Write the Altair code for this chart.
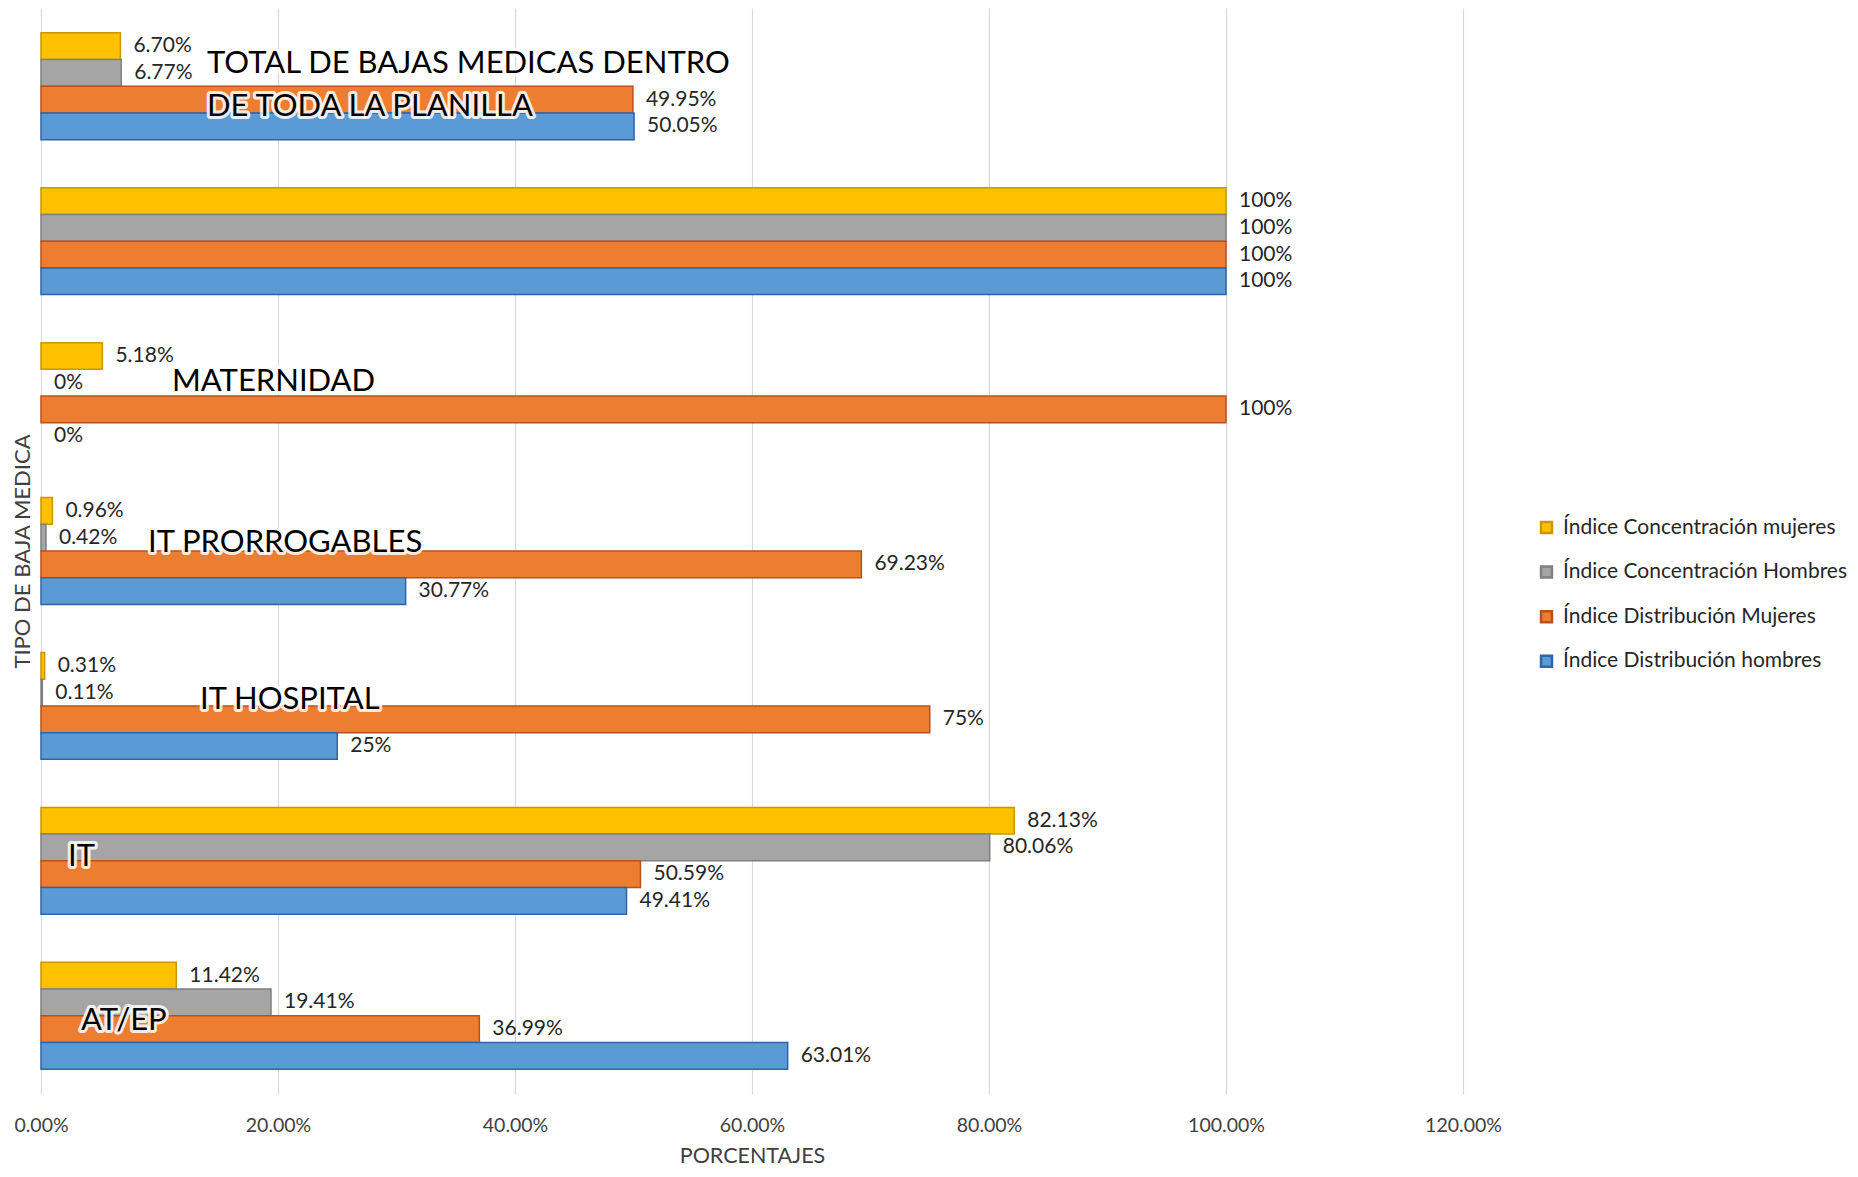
import altair as alt
import pandas as pd

# ---- data ----
categorias = [
    "TOTAL DE BAJAS MEDICAS DENTRO DE TODA LA PLANILLA",
    "TOTAL",
    "MATERNIDAD",
    "IT PRORROGABLES",
    "IT HOSPITAL",
    "IT",
    "AT/EP",
]
series = [
    "Índice Concentración mujeres",
    "Índice Concentración Hombres",
    "Índice Distribución Mujeres",
    "Índice Distribución hombres",
]
conc_mujeres = [6.70, 100, 5.18, 0.96, 0.31, 82.13, 11.42]
conc_hombres = [6.77, 100, 0, 0.42, 0.11, 80.06, 19.41]
dist_mujeres = [49.95, 100, 100, 69.23, 75, 50.59, 36.99]
dist_hombres = [50.05, 100, 0, 30.77, 25, 49.41, 63.01]

etiq_conc_mujeres = ["6.70%", "100%", "5.18%", "0.96%", "0.31%", "82.13%", "11.42%"]
etiq_conc_hombres = ["6.77%", "100%", "0%", "0.42%", "0.11%", "80.06%", "19.41%"]
etiq_dist_mujeres = ["49.95%", "100%", "100%", "69.23%", "75%", "50.59%", "36.99%"]
etiq_dist_hombres = ["50.05%", "100%", "0%", "30.77%", "25%", "49.41%", "63.01%"]

x_ticks = [0, 20, 40, 60, 80, 100, 120]

# overlay category captions (text, category they sit on)
rotulos = [
    ("TOTAL DE BAJAS MEDICAS DENTRO", categorias[0]),
    ("DE TODA LA PLANILLA", categorias[0]),
    ("MATERNIDAD", "MATERNIDAD"),
    ("IT PRORROGABLES", "IT PRORROGABLES"),
    ("IT HOSPITAL", "IT HOSPITAL"),
    ("IT", "IT"),
    ("AT/EP", "AT/EP"),
]
# pixel offsets of each caption (style)
rotulo_offsets = [(166, -22), (166, 21), (131, -14), (107, -8), (159, -6), (27, -4), (40, 5)]

valores = [conc_mujeres, conc_hombres, dist_mujeres, dist_hombres]
etiquetas = [etiq_conc_mujeres, etiq_conc_hombres, etiq_dist_mujeres, etiq_dist_hombres]
rows = []
for s, vals, labs in zip(series, valores, etiquetas):
    for c, v, l in zip(categorias, vals, labs):
        rows.append({"categoria": c, "serie": s, "valor": v, "etiqueta": l})
df = pd.DataFrame(rows)

FONT = "Lato"
fill_colors = ["#FFC000", "#A5A5A5", "#ED7D31", "#5B9BD5"]
stroke_colors = ["#C99700", "#808080", "#B9521A", "#2E64A8"]

legend_opts = dict(
    title=None, orient="none", legendX=1495, legendY=509,
    labelFont=FONT, labelFontSize=21, labelColor="#262626", labelLimit=400,
    symbolType="square", symbolSize=120, symbolStrokeWidth=2.5,
    rowPadding=22.6, labelOffset=6, padding=0,
)

y_enc = alt.Y(
    "categoria:N",
    sort=categorias,
    scale=alt.Scale(paddingInner=0.31, paddingOuter=0.16),
    axis=alt.Axis(
        labels=False, ticks=False, domain=False, grid=False,
        title="TIPO DE BAJA MEDICA", titleFontSize=22, titleFont=FONT,
        titleFontWeight="normal", titleColor="#404040", titlePadding=7,
    ),
)
yoff_enc = alt.YOffset("serie:N", sort=series, scale=alt.Scale(paddingInner=0, paddingOuter=0))
x_enc = alt.X(
    "valor:Q",
    scale=alt.Scale(domain=[0, 120], nice=False, zero=True),
    axis=alt.Axis(
        values=x_ticks, labelExpr="format(datum.value, '.2f') + '%'",
        labelFlush=False,
        title="PORCENTAJES", titleFont=FONT, titleFontSize=21.5, titleFontWeight="normal",
        titleColor="#404040", titlePadding=11,
        labelFont=FONT, labelFontSize=19.5, labelColor="#404040", labelPadding=22,
        ticks=False, domain=False, grid=True, gridColor="#D9D9D9", gridWidth=1.2,
    ),
)

base = alt.Chart(df)
bars = base.mark_bar(strokeWidth=1.5).encode(
    y=y_enc,
    yOffset=yoff_enc,
    x=x_enc,
    fill=alt.Fill(
        "serie:N", sort=series,
        scale=alt.Scale(domain=series, range=fill_colors),
        legend=alt.Legend(**legend_opts),
    ),
    stroke=alt.Stroke(
        "serie:N", sort=series,
        scale=alt.Scale(domain=series, range=stroke_colors),
        legend=alt.Legend(**legend_opts),
    ),
    strokeOpacity=alt.condition("datum.valor > 0", alt.value(1), alt.value(0)),
)

labels = base.mark_text(
    align="left", baseline="middle", dx=13, font=FONT, fontSize=21, color="#262626"
).encode(
    y=alt.Y("categoria:N", sort=categorias),
    yOffset=alt.YOffset("serie:N", sort=series),
    x=alt.X("valor:Q"),
    text="etiqueta:N",
)

layers = [bars, labels]
for (txt, cat), (dx, dy) in zip(rotulos, rotulo_offsets):
    d = pd.DataFrame({"categoria": [cat], "texto": [txt]})
    enc = dict(y=alt.Y("categoria:N", sort=categorias), x=alt.datum(0), text="texto:N")
    glow = alt.Chart(d).mark_text(
        align="left", baseline="middle", dx=dx, dy=dy, font=FONT, fontSize=31,
        color="white", stroke="white", strokeWidth=6, strokeOpacity=0.85, strokeJoin="round",
    ).encode(**enc)
    txtm = alt.Chart(d).mark_text(
        align="left", baseline="middle", dx=dx, dy=dy, font=FONT, fontSize=31, color="black",
    ).encode(**enc)
    layers += [glow, txtm]

chart = alt.layer(*layers).properties(
    width=1422,
    height=1086,
    padding={"left": 33, "top": 0, "right": 387, "bottom": 75},
    autosize=alt.AutoSizeParams(type="none"),
).configure(font=FONT).configure_view(stroke=None)

chart.save("out.html", embed_options={"renderer": "svg", "actions": False})
